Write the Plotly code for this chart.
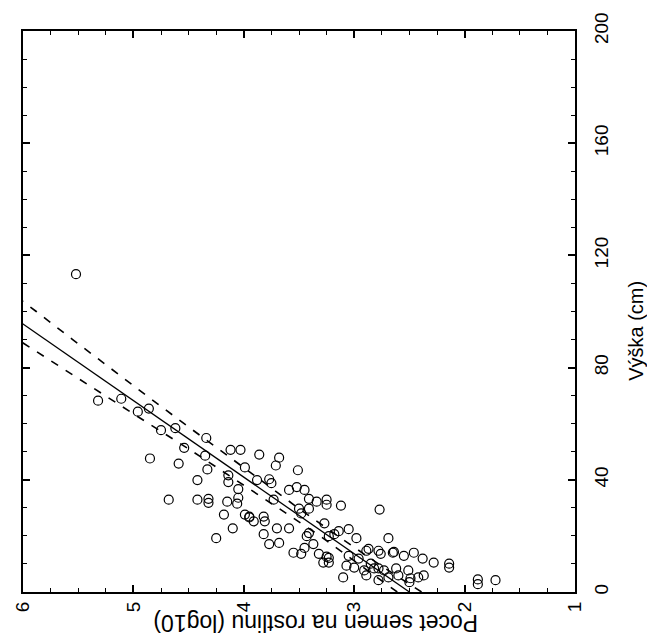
import plotly.graph_objects as go

# Scatter data: log10 seeds per plant (horizontal) vs plant height in cm (vertical)
seeds_log = [5.52, 5.32, 5.11, 4.96, 4.86, 4.75, 4.62, 4.54, 4.85, 4.59,
             4.34, 4.35, 4.33, 4.12, 4.03, 3.86, 3.68, 3.71, 3.99, 3.51,
             4.42, 4.14, 4.14, 4.05, 4.68, 4.42, 4.32, 4.32, 4.15, 4.06,
             4.05, 4.18, 3.99, 3.95, 4.10, 4.25, 3.88, 3.77, 3.75, 3.59,
             3.52, 3.45, 3.41, 3.34, 3.25, 3.25, 3.12, 3.73, 3.50, 3.41,
             3.48, 2.77, 3.95, 3.82, 3.81, 3.91, 3.70, 3.59, 3.82, 3.27,
             3.43, 3.41, 3.23, 3.18, 3.14, 3.05, 2.98, 3.37, 3.77, 3.68,
             3.45, 3.55, 3.48, 3.32, 3.25, 2.87, 2.76, 2.69, 2.65, 3.05,
             2.96, 3.28, 3.23, 3.23, 3.10, 3.07, 3.00, 2.91, 2.89, 2.85,
             2.78, 2.89, 2.78, 2.64, 2.55, 2.46, 2.38, 2.28, 2.14, 2.14,
             2.82, 2.73, 2.62, 2.51, 2.60, 2.49, 2.37, 2.42, 2.50, 1.88,
             1.88, 1.72, 2.78, 2.69]
height_cm = [113.3, 68.2, 68.9, 64.3, 65.4, 57.7, 58.4, 51.4, 47.6, 45.8,
             54.9, 48.6, 43.7, 50.7, 50.7, 49.0, 47.9, 45.1, 44.4, 43.4,
             39.9, 41.6, 39.2, 36.7, 32.9, 32.9, 33.2, 31.8, 32.2, 31.5,
             33.6, 27.6, 27.6, 26.6, 22.7, 19.2, 39.9, 40.2, 38.8, 36.4,
             37.4, 36.4, 33.2, 32.2, 32.9, 31.1, 30.8, 32.9, 29.7, 29.7,
             28.0, 29.4, 26.9, 26.9, 25.2, 25.2, 22.7, 22.7, 20.6, 24.5,
             19.9, 21.0, 19.9, 20.6, 21.7, 22.4, 19.2, 17.1, 17.1, 17.5,
             15.7, 14.0, 13.6, 13.6, 12.6, 15.4, 13.6, 19.2, 14.0, 12.9,
             11.9, 10.5, 12.2, 10.5, 5.2, 9.4, 8.7, 7.7, 5.9, 10.1,
             8.4, 14.7, 14.7, 14.3, 12.9, 14.0, 11.9, 10.5, 10.1, 8.7,
             8.4, 7.7, 8.4, 7.7, 5.9, 4.9, 5.9, 5.2, 3.5, 4.5,
             2.8, 4.2, 4.2, 5.2]

# Regression line (read at its ends)
fit_height = [0, 110]
fit_log = [2.50, 6.53]

# Confidence band
band_height = [0, 10, 20, 30, 40, 50, 60, 70, 80, 90, 100, 110]
band_upper = [2.61, 2.96, 3.31, 3.69, 4.07, 4.46, 4.86, 5.25, 5.64, 6.04, 6.44, 6.84]
band_lower = [2.39, 2.78, 3.15, 3.51, 3.85, 4.20, 4.54, 4.88, 5.22, 5.55, 5.88, 6.22]

x_ticks = [6, 5, 4, 3, 2, 1]
y_ticks = [0, 40, 80, 120, 160, 200]

FONT = "Liberation Sans Narrow, Arial Narrow, Liberation Sans, Arial, sans-serif"

fig = go.Figure()
fig.add_trace(go.Scatter(x=band_upper, y=band_height, mode="lines",
                         line=dict(color="black", width=1.6, dash="8px,9px"),
                         hoverinfo="skip"))
fig.add_trace(go.Scatter(x=band_lower, y=band_height, mode="lines",
                         line=dict(color="black", width=1.6, dash="8px,9px"),
                         hoverinfo="skip"))
fig.add_trace(go.Scatter(x=fit_log, y=fit_height, mode="lines",
                         line=dict(color="black", width=1.3)))
fig.add_trace(go.Scatter(x=seeds_log, y=height_cm, mode="markers",
                         marker=dict(symbol="circle-open", size=9,
                                     color="black", line=dict(width=1.2))))

fig.update_layout(
    width=647, height=641,
    margin=dict(l=19, r=72, t=20, b=49),
    paper_bgcolor="white", plot_bgcolor="white",
    showlegend=False,
    font=dict(family=FONT, color="black", size=19),
    xaxis=dict(range=[6, 1], tickvals=x_ticks, ticktext=[str(v) for v in x_ticks],
               tickangle=-90, ticks="inside", ticklen=7, tickwidth=1.5,
               tickcolor="black", showline=True, linecolor="black", linewidth=2,
               mirror="ticks", showgrid=False, zeroline=False,
               minor=dict(dtick=0.25, tick0=1, ticks="inside", ticklen=4,
                          tickwidth=1, tickcolor="black", showgrid=False),
               tickfont=dict(size=19, family=FONT)),
    yaxis=dict(range=[0, 200], tickvals=y_ticks, ticktext=[str(v) for v in y_ticks],
               side="right", tickangle=-90, ticks="inside", ticklen=7, tickwidth=1.5,
               tickcolor="black", showline=True, linecolor="black", linewidth=2,
               mirror="ticks", showgrid=False, zeroline=False, ticklabelstandoff=8,
               minor=dict(dtick=10, tick0=0, ticks="inside", ticklen=4,
                          tickwidth=1, tickcolor="black", showgrid=False),
               tickfont=dict(size=19, family=FONT)),
    annotations=[
        dict(text="Pocet semen na rostlinu (log10)", xref="paper", yref="paper",
             x=0.53, y=-0.055, xanchor="center", yanchor="middle",
             textangle=180, showarrow=False,
             font=dict(family="Liberation Sans, Arial, sans-serif", size=23)),
        dict(text="Výška (cm)", xref="paper", yref="paper",
             x=1.11, y=0.465, xanchor="center", yanchor="middle",
             textangle=-90, showarrow=False,
             font=dict(family=FONT, size=20)),
    ],
)

fig.write_html("out.html")
